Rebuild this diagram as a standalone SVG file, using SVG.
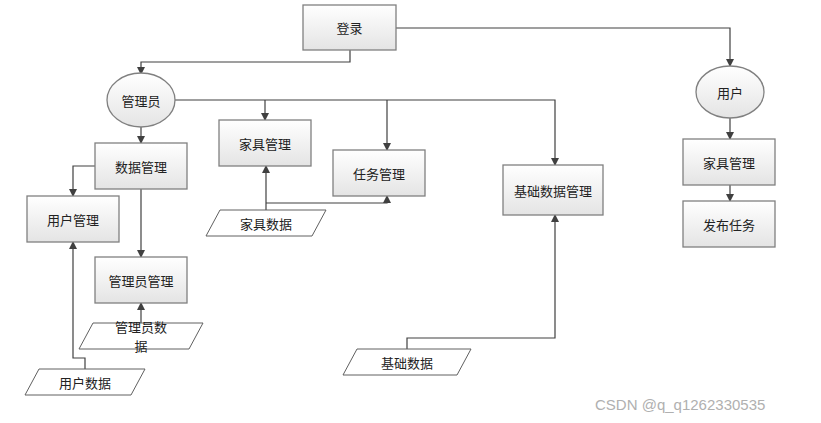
<svg xmlns="http://www.w3.org/2000/svg" width="821" height="423" viewBox="0 0 821 423">
<defs>
<linearGradient id="g" x1="0" y1="0" x2="0" y2="1"><stop offset="0" stop-color="#ffffff"/><stop offset="1" stop-color="#e4e4e4"/></linearGradient>
<marker id="a" markerWidth="8" markerHeight="8" refX="7" refY="4" orient="auto" markerUnits="userSpaceOnUse"><path d="M0,0 L8,4 L0,8 z" fill="#404040"/></marker>
</defs>
<style>
.n{fill:url(#g);stroke:#808080;stroke-width:1.3}
.p{fill:#fff;stroke:#606060;stroke-width:1}
.t{font-family:"Noto Sans CJK SC",sans-serif;font-size:13px;fill:#222;text-anchor:middle;dominant-baseline:central}
.c{fill:none;stroke:#404040;stroke-width:1.2;marker-end:url(#a)}
</style>
<rect width="821" height="423" fill="#fff"/>
<g id="connectors">
<path class="c" d="M350,50 V62 H141 V74"/>
<path class="c" d="M396,28 H730 V66"/>
<path class="c" d="M175,100 H555 V165"/>
<path class="c" d="M265,100 V120"/>
<path class="c" d="M387,100 V150"/>
<path class="c" d="M141,127 V143"/>
<path class="c" d="M95,166 H73 V196"/>
<path class="c" d="M141,189 V257"/>
<path class="c" d="M141,323 V303"/>
<path class="c" d="M85,369 V358 H73 V242"/>
<path class="c" d="M266,210 V166"/>
<path class="c" d="M266,203 H387 V196"/>
<path class="c" d="M407,349 V338 H555 V215"/>
<path class="c" d="M730,118 V139"/>
<path class="c" d="M730,185 V201"/>
</g>
<g id="login"><rect class="n" x="303" y="5" width="93" height="45"/><text class="t" x="349.5" y="27.5">登录</text></g>
<g id="admin"><ellipse class="n" cx="141" cy="100" rx="34" ry="27"/><text class="t" x="141" y="100">管理员</text></g>
<g id="datamgr"><rect class="n" x="95" y="143" width="92" height="46"/><text class="t" x="141" y="166">数据管理</text></g>
<g id="usermgr"><rect class="n" x="27" y="196" width="92" height="46"/><text class="t" x="73" y="219">用户管理</text></g>
<g id="adminmgr"><rect class="n" x="95" y="257" width="92" height="46"/><text class="t" x="141" y="280">管理员管理</text></g>
<g id="admindata"><polygon class="p" points="93,323 203,323 189,349 79,349"/><text class="t" x="141" y="326" font-size="12">管理员数</text><text class="t" x="141" y="345" font-size="12">据</text></g>
<g id="userdata"><polygon class="p" points="39,369 145,369 131,395 25,395"/><text class="t" x="85" y="382">用户数据</text></g>
<g id="furnmgr"><rect class="n" x="219" y="120" width="92" height="46"/><text class="t" x="265" y="143">家具管理</text></g>
<g id="taskmgr"><rect class="n" x="333" y="150" width="92" height="46"/><text class="t" x="379" y="173">任务管理</text></g>
<g id="furndata"><polygon class="p" points="220,210 326,210 312,236 206,236"/><text class="t" x="266" y="223">家具数据</text></g>
<g id="basemgr"><rect class="n" x="503" y="165" width="100" height="50"/><text class="t" x="553" y="190">基础数据管理</text></g>
<g id="basedata"><polygon class="p" points="357,349 471,349 457,375 343,375"/><text class="t" x="407" y="362">基础数据</text></g>
<g id="user"><ellipse class="n" cx="730" cy="92" rx="34" ry="26"/><text class="t" x="730" y="92">用户</text></g>
<g id="ufurn"><rect class="n" x="683" y="139" width="92" height="46"/><text class="t" x="729" y="162">家具管理</text></g>
<g id="pubtask"><rect class="n" x="683" y="201" width="92" height="46"/><text class="t" x="729" y="224">发布任务</text></g>
<text x="595" y="410" font-family="Liberation Sans,sans-serif" font-size="15" fill="#b0b0b0">CSDN @q_q1262330535</text>
</svg>
